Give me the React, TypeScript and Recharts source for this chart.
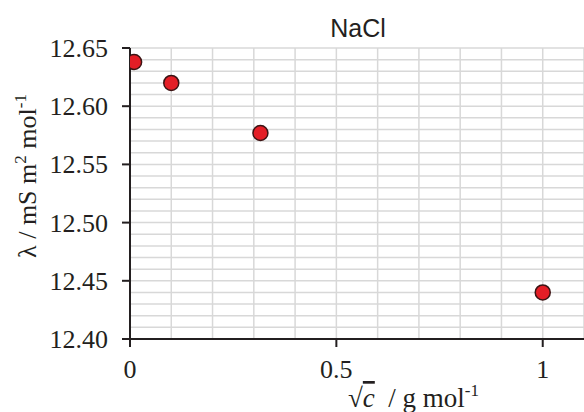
import React from 'react';
import { ScatterChart, Scatter, XAxis, YAxis, CartesianGrid } from 'recharts';

// √c values (g mol^-1) and molar conductivity λ (mS m² mol^-1)
const sqrtConc = [0.01, 0.1, 0.316, 1];
const lambdaValues = [12.638, 12.62, 12.577, 12.44];

const xTicks = [0, 0.5, 1];
const yTicks = [12.4, 12.45, 12.5, 12.55, 12.6, 12.65];

// light grid: every 0.1 across, every 0.01 up
const xGrid = [0, 0.1, 0.2, 0.3, 0.4, 0.5, 0.6, 0.7, 0.8, 0.9, 1, 1.1];
const yGrid = [
  12.4, 12.41, 12.42, 12.43, 12.44, 12.45, 12.46, 12.47, 12.48, 12.49,
  12.5, 12.51, 12.52, 12.53, 12.54, 12.55, 12.56, 12.57, 12.58, 12.59,
  12.6, 12.61, 12.62, 12.63, 12.64, 12.65,
];

const data = sqrtConc.map((x, i) => ({ x, y: lambdaValues[i] }));

const INK = '#231f20';
const SERIF = '"Liberation Serif", "Times New Roman", serif';

const Dot = (props: any) => (
  <circle cx={props.cx} cy={props.cy} r={7.5} fill="#e41e26" stroke="#3b1414" strokeWidth={1.5} />
);

const XTick = (props: any) => (
  <text x={props.x} y={props.y + 18} textAnchor="middle" fill={INK} fontSize={26} fontFamily={SERIF}>
    {String(props.payload.value)}
  </text>
);

const YTick = (props: any) => (
  <text x={props.x} y={props.y + 9} textAnchor="end" fill={INK} fontSize={26} fontFamily={SERIF}>
    {Number(props.payload.value).toFixed(2)}
  </text>
);

export default function App() {
  return (
    <div style={{ position: 'absolute', left: 0, top: 0, width: 584, height: 412, background: '#fff' }}>
      <ScatterChart width={584} height={412} margin={{ top: 48, right: 0, bottom: 0, left: 0 }}>
        <CartesianGrid
          stroke="#d8d8d8"
          strokeWidth={1.5}
          horizontalValues={yGrid}
          verticalValues={xGrid}
        />
        <XAxis
          type="number"
          dataKey="x"
          domain={[0, 1.1]}
          ticks={xTicks}
          interval={0}
          height={73}
          tickSize={8}
          tickMargin={13}
          axisLine={{ stroke: INK, strokeWidth: 2 }}
          tickLine={{ stroke: INK, strokeWidth: 2 }}
          tick={XTick}
          allowDataOverflow
        />
        <YAxis
          type="number"
          dataKey="y"
          domain={[12.4, 12.65]}
          ticks={yTicks}
          interval={0}
          width={130}
          tickSize={8}
          tickMargin={14}
          axisLine={{ stroke: INK, strokeWidth: 2 }}
          tickLine={{ stroke: INK, strokeWidth: 2 }}
          tick={YTick}
          allowDataOverflow
        />
        <Scatter data={data} shape={Dot} isAnimationActive={false} />

        <text x={358} y={37} textAnchor="middle" fill={INK} fontSize={25}
          fontFamily='"Liberation Sans", Arial, sans-serif'>NaCl</text>

        <text x={36} y={176} transform="rotate(-90, 36, 176)" textAnchor="middle"
          fill={INK} fontSize={26} fontFamily={SERIF}>
          λ / mS m<tspan dy={-10} fontSize={17}>2</tspan>
          <tspan dy={10}> mol</tspan><tspan dy={-10} fontSize={17}>-1</tspan>
        </text>

        <text x={348} y={407} fill={INK} fontSize={27} fontFamily={SERIF} xmlSpace="preserve">
          √<tspan fontStyle="italic" textDecoration="overline">c</tspan>
          <tspan>  / g mol</tspan><tspan dy={-11} fontSize={17}>-1</tspan>
        </text>
      </ScatterChart>
    </div>
  );
}
